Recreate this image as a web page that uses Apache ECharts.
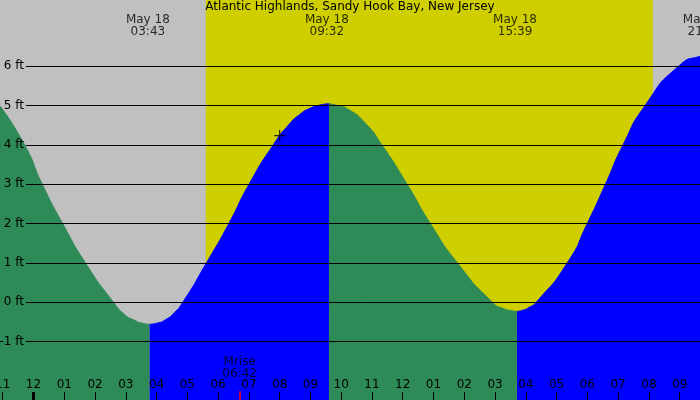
<!DOCTYPE html>
<html>
<head>
<meta charset="utf-8">
<script src="https://cdn.jsdelivr.net/npm/echarts@6/dist/echarts.min.js"></script>
<style>
html, body { margin: 0; padding: 0; background: #c0c0c0; }
#graph { width: 700px; height: 400px; }
</style>
</head>
<body>
<div id="graph"></div>
<script>
var title = 'Atlantic Highlands, Sandy Hook Bay, New Jersey';

// tide height (ft) against hours since midnight May 18
var ebb1 = [[-1.089, 4.99], [-0.286, 4.0], [0.286, 3.0], [0.949, 2.0], [1.69, 1.0], [2.6, 0.0], [2.974, -0.32], [3.266, -0.45], [3.526, -0.53], [3.773, -0.56]];
var flood1 = [[3.773, -0.56], [4.014, -0.53], [4.274, -0.45], [4.566, -0.27], [4.852, 0.0], [5.619, 1.0], [6.347, 2.0], [7.004, 3.0], [7.79, 4.0], [8.336, 4.55], [8.661, 4.78], [8.921, 4.91], [9.343, 5.02], [9.603, 5.05]];
var ebb2 = [[9.603, 5.05], [9.896, 5.0], [10.221, 4.91], [10.812, 4.53], [11.326, 4.0], [12.145, 3.0], [12.899, 2.0], [13.78, 1.0], [14.917, 0.0], [15.307, -0.17], [15.518, -0.21], [15.713, -0.23]];
var flood2 = [[15.713, -0.23], [15.908, -0.2], [16.103, -0.13], [16.337, 0.0], [17.345, 1.0], [17.995, 2.0], [18.586, 3.0], [19.158, 4.0], [19.873, 5.0], [20.962, 6.0], [21.661, 6.25], [21.823, 6.27]];

var tideDays = ['May 18', 'May 18', 'May 18', 'May 18'];
var tideTimes = ['03:43', '09:32', '15:39', '21:49'];

var hourTicks = [-1, 0, 1, 2, 3, 4, 5, 6, 7, 8, 9, 10, 11, 12, 13, 14, 15, 16, 17, 18, 19, 20, 21];
var hourLabels = ['11', '12', '01', '02', '03', '04', '05', '06', '07', '08', '09', '10', '11', '12', '01', '02', '03', '04', '05', '06', '07', '08', '09'];

var ftLevels = [6, 5, 4, 3, 2, 1, 0, -1];

var sunrise = 5.6, sunset = 20.13;
var moonrise = '06:42';
var nowMark = [8.0, 4.24];

function toHours(s) {
    var p = s.split(':');
    return +p[0] + p[1] / 60;
}

var xMin = -1.0887, xMax = 21.661;
var yMin = -2.484, yMax = 7.686;
var font = 'DejaVu Sans';

function tide(data, color) {
    return {
        type: 'line',
        data: data,
        smooth: 0.65,
        symbol: 'none',
        z: 3,
        lineStyle: {color: color, width: 1},
        areaStyle: {color: color, opacity: 1, origin: 'start'}
    };
}

var option = {
    animation: false,
    backgroundColor: '#c0c0c0',
    title: {
        text: title,
        left: 'center',
        top: 1,
        padding: 0,
        textStyle: {fontSize: 12, fontWeight: 'normal', color: '#000', fontFamily: font}
    },
    grid: {left: 0, right: 0, top: 0, bottom: 0, containLabel: false, outerBoundsMode: 'none'},
    xAxis: {
        type: 'value',
        min: xMin,
        max: xMax,
        z: 10,
        splitLine: {show: false},
        axisLine: {show: false, onZero: false},
        axisTick: {
            customValues: hourTicks,
            inside: true,
            length: 8,
            lineStyle: {color: '#000', width: 1}
        },
        axisLabel: {
            customValues: hourTicks,
            inside: true,
            margin: 9,
            color: '#000',
            fontSize: 12,
            fontFamily: font,
            formatter: function (v) {
                return hourLabels[hourTicks.indexOf(Math.round(v))];
            }
        }
    },
    yAxis: {
        type: 'value',
        min: yMin,
        max: yMax,
        show: false,
        splitLine: {show: false}
    },
    series: [
        {
            type: 'line',
            data: [],
            z: 1,
            markArea: {
                silent: true,
                itemStyle: {color: '#cfcf00'},
                data: [[{xAxis: sunrise}, {xAxis: sunset}]]
            }
        },
        {
            type: 'line',
            data: [],
            z: 2,
            markLine: {
                silent: true,
                symbol: ['none', 'none'],
                lineStyle: {color: '#000', width: 1, type: 'solid'},
                label: {
                    position: 'start',
                    distance: 2,
                    formatter: '{b}',
                    color: '#000',
                    fontSize: 12,
                    fontFamily: font
                },
                data: ftLevels.map(function (v) {
                    return [{coord: [-0.244, v], name: v + ' ft'}, {coord: [xMax, v]}];
                })
            }
        },
        tide(ebb1, '#2e8b57'),
        tide(flood1, '#0000ff'),
        tide(ebb2, '#2e8b57'),
        tide(flood2, '#0000ff'),
        {
            type: 'line',
            data: [],
            z: 12,
            markLine: {
                silent: true,
                symbol: ['none', 'none'],
                label: {show: false},
                data: [
                    [{coord: [0, -2.28], lineStyle: {color: '#000', width: 3, type: 'solid'}}, {coord: [0, yMin]}],
                    [{coord: [toHours(moonrise), -2.26], lineStyle: {color: '#ff0000', width: 1.5, type: 'solid'}}, {coord: [toHours(moonrise), yMin]}]
                ]
            }
        },
        {
            type: 'scatter',
            z: 12,
            clip: false,
            symbolSize: 1,
            itemStyle: {color: 'rgba(0,0,0,0)'},
            label: {
                show: true,
                position: 'inside',
                color: '#000',
                fontSize: 12,
                lineHeight: 12,
                fontFamily: font,
                formatter: '{b}'
            },
            data: tideTimes.map(function (t, i) {
                return {name: tideDays[i] + '\n' + t, value: [toHours(t), 7.02]};
            }).concat([{name: 'Mrise\n' + moonrise, value: [toHours(moonrise), -1.66]}])
        },
        {
            type: 'scatter',
            z: 12,
            symbol: 'path://M0,5h11v1.2h-11zM4.9,0h1.2v11h-1.2z',
            symbolSize: 11,
            itemStyle: {color: '#000'},
            data: [nowMark]
        }
    ]
};

var chart = echarts.init(document.getElementById('graph'));
chart.setOption(option);
</script>
</body>
</html>
